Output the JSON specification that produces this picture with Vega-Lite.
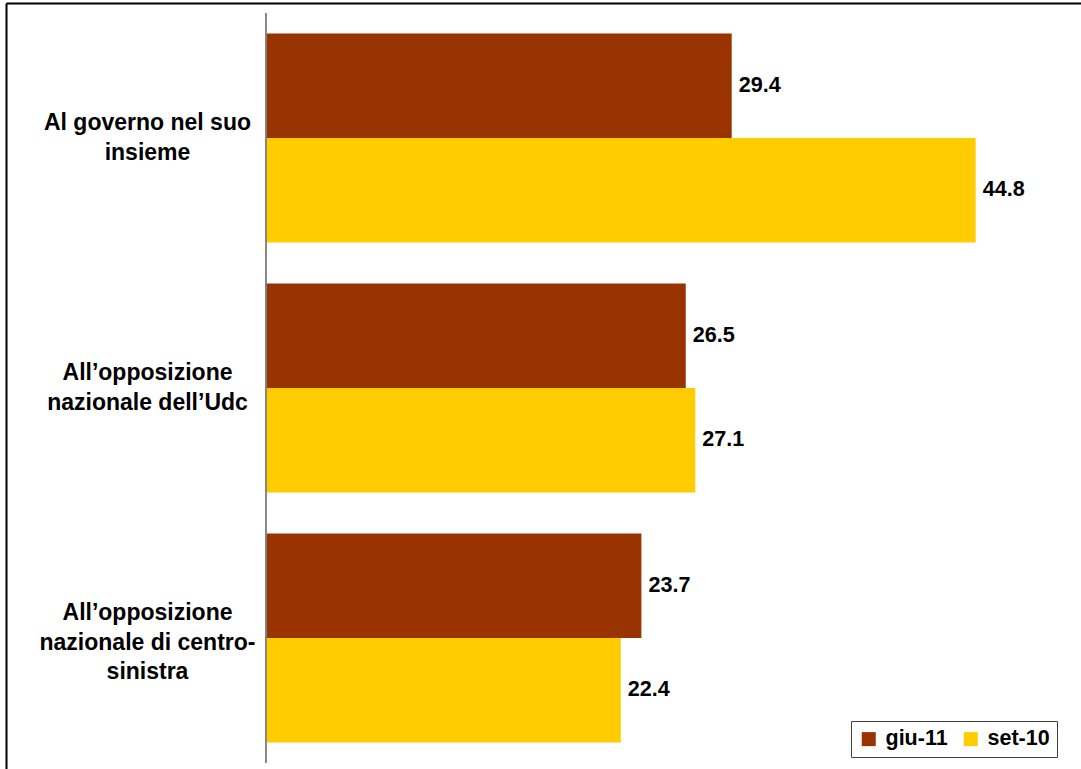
{
  "$schema": "https://vega.github.io/schema/vega-lite/v6.json",
  "width": 1075,
  "height": 766,
  "autosize": {"type": "none"},
  "padding": {"left": 6, "top": 3, "right": 0, "bottom": 0},
  "background": "white",
  "config": {
    "font": "Liberation Sans",
    "view": {"stroke": null}
  },
  "data": {
    "values": [
      {"cat": "Al governo nel suo insieme", "series": "giu-11", "value": 29.4},
      {"cat": "Al governo nel suo insieme", "series": "set-10", "value": 44.8},
      {"cat": "All’opposizione nazionale dell’Udc", "series": "giu-11", "value": 26.5},
      {"cat": "All’opposizione nazionale dell’Udc", "series": "set-10", "value": 27.1},
      {"cat": "All’opposizione nazionale di centro-sinistra", "series": "giu-11", "value": 23.7},
      {"cat": "All’opposizione nazionale di centro-sinistra", "series": "set-10", "value": 22.4}
    ]
  },
  "encoding": {
    "y": {
      "field": "cat",
      "type": "nominal",
      "sort": null,
      "scale": {"paddingInner": 0, "paddingOuter": 0.032, "align": 0.625},
      "axis": {
        "title": null,
        "orient": "left",
        "ticks": false,
        "domain": true,
        "domainColor": "black",
        "domainWidth": 2,
        "labelPadding": -141,
        "labelAlign": "center",
        "labelBaseline": "middle",
        "labelFontSize": 23,
        "labelFontWeight": "bold",
        "labelColor": "black",
        "labelLineHeight": 29.5,
        "labelLimit": 0,
        "labelOverlap": false,
        "labelBound": false,
        "labelOffset": {
          "condition": {"test": "datum.value == 'All’opposizione nazionale di centro-sinistra'", "value": -25},
          "value": -15
        },
        "labelExpr": "datum.value == 'Al governo nel suo insieme' ? ['Al governo nel suo', 'insieme'] : datum.value == 'All’opposizione nazionale dell’Udc' ? ['All’opposizione', 'nazionale dell’Udc'] : ['All’opposizione', 'nazionale di centro-', 'sinistra']"
      }
    }
  },
  "layer": [
    {
      "mark": {"type": "bar"},
      "encoding": {
        "x": {
          "field": "value",
          "type": "quantitative",
          "scale": {"domain": [-16.41, 51.45], "nice": false, "zero": false},
          "axis": {
            "orient": "top",
            "title": null,
            "labels": false,
            "ticks": false,
            "grid": false,
            "domain": true,
            "domainColor": "black",
            "domainWidth": 2
          }
        },
        "yOffset": {
          "field": "series",
          "type": "nominal",
          "scale": {"paddingInner": 0, "paddingOuter": 0.196}
        },
        "color": {
          "field": "series",
          "type": "nominal",
          "scale": {"domain": ["giu-11", "set-10"], "range": ["#993300", "#FFCC00"]},
          "legend": {
            "title": null,
            "orient": "none",
            "direction": "horizontal",
            "legendX": 845,
            "legendY": 718,
            "padding": 7,
            "strokeColor": "#404040",
            "fillColor": "white",
            "symbolType": "square",
            "symbolSize": 196,
            "symbolStrokeWidth": 0,
            "symbolOpacity": 1,
            "labelOffset": 6,
            "columnPadding": 12,
            "labelFontSize": 21.5,
            "labelFontWeight": "bold",
            "labelColor": "black"
          }
        }
      }
    },
    {
      "mark": {"type": "text", "align": "left", "baseline": "middle", "dx": 7, "fontSize": 21.6, "fontWeight": "bold", "color": "black"},
      "encoding": {
        "x": {"field": "value", "type": "quantitative"},
        "yOffset": {"field": "series", "type": "nominal"},
        "text": {"field": "value", "type": "quantitative", "format": ".1f"}
      }
    },
    {
      "mark": {"type": "rect", "stroke": "#808080", "strokeWidth": 1.5, "fill": null},
      "encoding": {
        "x": {"datum": 0},
        "x2": {"datum": 0}
      }
    }
  ]
}
